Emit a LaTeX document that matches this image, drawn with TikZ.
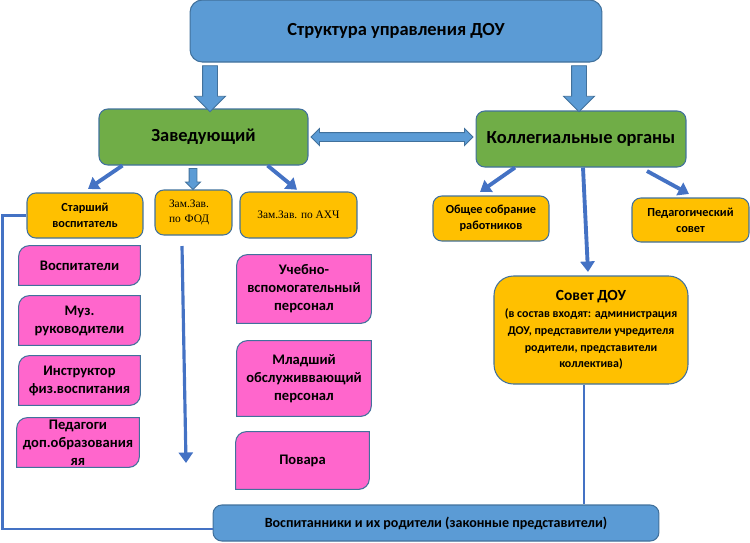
\documentclass[tikz,border=0pt]{standalone}
\usepackage{fontspec}
\setmainfont{Carlito}
\newfontfamily\zamfont{Liberation Serif}
\usepackage{tikz}
\usetikzlibrary{arrows.meta, shapes.arrows, backgrounds, positioning}
\definecolor{titleblue}{HTML}{5B9BD5}
\definecolor{edgeblue}{HTML}{41719C}
\definecolor{leafgreen}{HTML}{70AD47}
\definecolor{boxorange}{HTML}{FFC000}
\definecolor{boxpink}{HTML}{FF66CC}
\definecolor{lineblue}{HTML}{4472C4}
\tikzset{>=stealth}
\tikzset{
  box/.style={draw=edgeblue, line width=0.6pt, rounded corners=5pt, align=center, inner sep=0pt},
  bluebox/.style={box, fill=titleblue, font=\bfseries\fontsize{8}{10}\selectfont},
  greenbox/.style={box, fill=leafgreen, font=\bfseries\fontsize{10.5}{12}\selectfont},
  orangebox/.style={box, fill=boxorange, font=\bfseries\fontsize{7}{9.2}\selectfont},
  zambox/.style={box, fill=boxorange, font=\zamfont\fontsize{6.5}{8.5}\selectfont},
  pinkbox/.style={align=center, inner sep=0pt, font=\bfseries\fontsize{8.3}{10.3}\selectfont},
  fat/.style={single arrow, draw=edgeblue, fill=titleblue, line width=0.5pt, rotate=-90},
  link/.style={draw=lineblue, line width=2.2pt, -{Triangle[width=8pt,length=6pt]}},
  plain/.style={draw=lineblue, line width=1.3pt},
}
\newcommand{\pinkback}[1]{%
  \filldraw[fill=boxpink, draw=edgeblue, line width=0.6pt] (#1.south west) -- ([yshift=-6pt]#1.north west)
    arc[start angle=180, end angle=90, radius=6pt] -- (#1.north east) -- ([yshift=6pt]#1.south east)
    arc[start angle=0, end angle=-90, radius=6pt] -- cycle;}

\begin{document}
\begin{tikzpicture}[x=0.02cm, y=-0.02cm]
\useasboundingbox (0,0) rectangle (750,542);

			\node[bluebox, rounded corners=7pt, minimum width=8.24cm, minimum height=1.24cm, font=\bfseries\fontsize{10.5}{12}\selectfont] (T) at (396,31) {Структура управления ДОУ};
			\node[greenbox, minimum width=4.18cm, minimum height=1.12cm] (Z) at (203.5,137) {Заведующий};
			\node[greenbox, minimum width=4.2cm, minimum height=1.12cm] (K) at (581,139) {Коллегиальные органы};

			\node[orangebox, minimum width=2.32cm, minimum height=0.9cm] (S1) at (85,215.5) {Старший\\воспитатель};
			\node[zambox, minimum width=1.54cm, minimum height=0.9cm, inner xsep=0.28cm, text width=0.98cm, align=left] (S2) at (193.5,212.5) {Зам.Зав.\\по ФОД};
			\node[zambox, minimum width=2.34cm, minimum height=0.92cm] (S3) at (298.5,215) {Зам.Зав. по АХЧ};
			\node[orangebox, minimum width=2.32cm, minimum height=0.9cm] (O1) at (491,218.5) {Общее собрание\\работников};
			\node[orangebox, minimum width=2.34cm, minimum height=0.88cm] (O2) at (690.5,220) {Педагогический\\совет};

			\node[pinkbox, minimum width=2.42cm, minimum height=0.78cm] (P1) at (79.5,265.5) {Воспитатели};
			\node[pinkbox, minimum width=2.42cm, minimum height=0.98cm] (P2) at (79.5,320.5) {Муз.\\руководители};
			\node[pinkbox, minimum width=2.42cm, minimum height=0.98cm] (P3) at (79.5,380.5) {Инструктор\\физ.воспитания};
			\node[pinkbox, minimum width=2.44cm, minimum height=0.98cm] (P4) at (78,442.5) {Педагоги\\доп.образования\\яя};
			\node[pinkbox, minimum width=2.68cm, minimum height=1.36cm] (R1) at (304,289) {Учебно-\\вспомогательный\\персонал};
			\node[pinkbox, minimum width=2.68cm, minimum height=1.5cm] (R2) at (304,378.5) {Младший\\обслуживвающий\\персонал};
			\node[pinkbox, minimum width=2.66cm, minimum height=1.14cm] (R3) at (302.5,460.5) {Повара};

			\node[orangebox, rounded corners=11pt, minimum width=3.88cm, minimum height=2.16cm, font=\bfseries\fontsize{6.8}{9.6}\selectfont] (SD) at (591,330) {{\fontsize{8.8}{10}\selectfont Совет ДОУ}\\(в состав входят: администрация\\ДОУ, представители учредителя\\родители, представители\\коллектива)};
			\node[bluebox, minimum width=8.92cm, minimum height=0.72cm] (V) at (436,523) {Воспитанники и их родители (законные представители)};

			\begin{pgfonlayer}{background}
			\pinkback{P1} \pinkback{P2} \pinkback{P3} \pinkback{P4}
			\pinkback{R1} \pinkback{R2} \pinkback{R3}
			\end{pgfonlayer}

			\node[fat, inner sep=0.14cm, minimum height=0.92cm, single arrow head extend=0.16cm] (A1) at (210,85) {};
			\node[fat, inner sep=0.14cm, minimum height=0.92cm, single arrow head extend=0.16cm] (A2) at (579,85) {};
			\node[fat, inner sep=0.07cm, minimum height=0.42cm, single arrow head extend=0.07cm] (A3) at (193,177) {};
			\node[double arrow, draw=edgeblue, fill=titleblue, line width=0.5pt, inner sep=0.08cm, minimum height=3.24cm, double arrow head extend=0.08cm] (DA) at (392,137) {};

			\draw[link] ([xshift=.48cm]Z.south west) -- ([xshift=.06cm,yshift=2pt]S1.north);
			\draw[link] ([xshift=-.82cm]Z.south east) -- ([xshift=-.03cm,yshift=1pt]S3.north);
			\draw[link] ([xshift=-1.32cm]K.south) -- ([xshift=-.22cm,yshift=2pt]O1.north);
			\draw[link] ([xshift=1.32cm,yshift=-2pt]K.south) -- ([xshift=-.03cm,yshift=2pt]O2.north);
			\draw[link] ([xshift=.04cm]K.south) -- ([xshift=-.06cm,yshift=2pt]SD.north);

			\coordinate (F1) at (182,246);
			\coordinate (F2) at (186,463);
			\draw[link, line width=1.8pt] (F1) -- (F2);

			\draw[plain] (S1.west) -- ++(-.48cm,0) |- ([yshift=-.12cm]V.west);
			\draw[plain] ([xshift=-.14cm]SD.south) -- ([xshift=-.14cm]SD.south |- V.north);

			\end{tikzpicture}
\end{document}
